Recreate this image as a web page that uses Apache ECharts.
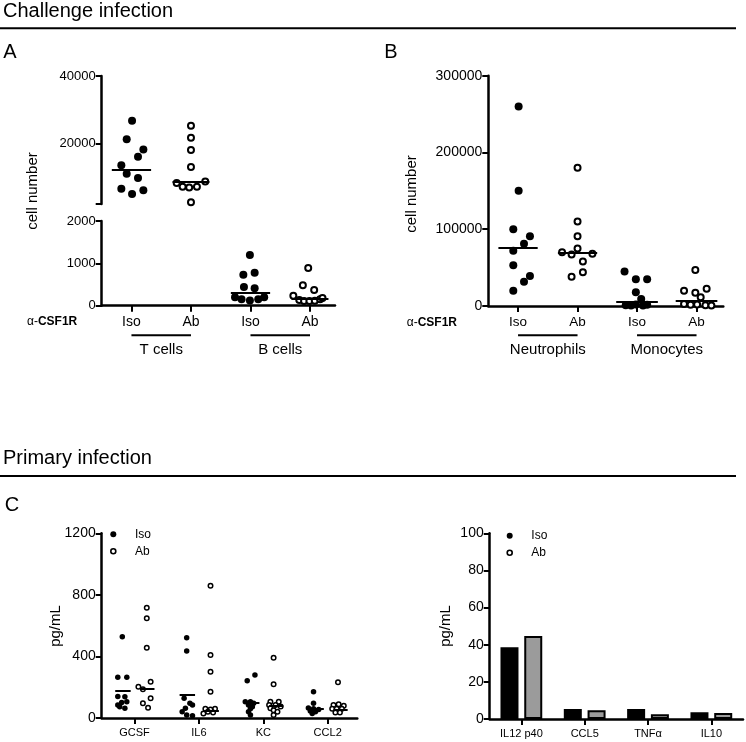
<!DOCTYPE html>
<html><head><meta charset="utf-8">
<script src="https://cdn.jsdelivr.net/npm/echarts@6/dist/echarts.min.js"></script>
<style>html,body{margin:0;padding:0;background:#fff}#c{width:746px;height:742px}</style>
</head><body><div id="c"></div>
<script>
// ================= DATA =================
// Panel A (cell number, broken axis)
const aTicks = ['Iso', 'Ab', 'Iso', 'Ab'];
const aGroups = ['T cells', 'B cells'];
const tCellsIso  = [26700, 21200, 18200, 16000, 13500, 11000, 9700, 6500, 5000, 6100];
const tCellsIsoX = [0.01, -0.08, 0.2, 0.11, -0.17, -0.08, 0.11, -0.17, 0.01, 0.2];
const tCellsAb   = [25200, 21700, 18000, 13000, 8200, 7100, 6900, 7100, 8700, 2500];
const tCellsAbX  = [0, 0, 0, 0, -0.24, -0.14, -0.03, 0.1, 0.24, 0];
const bCellsIso  = [1200, 730, 780, 440, 410, 200, 150, 120, 150, 200];
const bCellsIsoX = [-0.01, -0.12, 0.07, -0.11, 0.07, -0.26, -0.15, -0.01, 0.13, 0.23];
const bCellsAb   = [890, 480, 370, 236, 135, 111, 111, 118, 151, 182];
const bCellsAbX  = [-0.03, -0.12, 0.07, -0.28, -0.18, -0.1, -0.01, 0.08, 0.17, 0.21];
const aMedians   = [12200, 8500, 305, 155];

// Panel B
const bTicks = ['Iso', 'Ab', 'Iso', 'Ab'];
const bGroups = ['Neutrophils', 'Monocytes'];
const neutIso  = [260000, 150000, 100000, 91000, 81000, 72000, 53000, 39000, 31600, 19900];
const neutIsoX = [0.01, 0.01, -0.08, 0.2, 0.1, -0.08, -0.08, 0.2, 0.1, -0.08];
const neutAb   = [180000, 110000, 91000, 75000, 70000, 68000, 67000, 58000, 44000, 38000];
const neutAbX  = [0, 0, 0, 0, -0.26, 0.25, -0.1, 0.09, 0.09, -0.1];
const monoIso  = [45000, 35000, 35000, 17800, 9000, 1000, 500, 2000, 800, 1500];
const monoIsoX = [-0.21, -0.02, 0.17, -0.02, 0.07, -0.19, -0.1, -0.02, 0.1, 0.17];
const monoAb   = [47000, 22500, 20000, 17300, 11300, 2500, 1500, 2000, 1000, 500];
const monoAbX  = [-0.02, 0.17, -0.21, -0.02, 0.07, -0.21, -0.1, 0.01, 0.15, 0.25];
const bMedians = [76500, 69000, 5600, 6900];

// Panel C left (pg/mL)
const cCats = ['GCSF', 'IL6', 'KC', 'CCL2'];
const gcsfIso  = [528, 265, 265, 140, 138, 106, 85, 73, 63, 100];
const gcsfIsoX = [-0.19, -0.26, -0.12, -0.26, -0.15, -0.12, -0.26, -0.23, -0.15, -0.2];
const gcsfAb   = [717, 648, 457, 236, 203, 187, 128, 96, 67];
const gcsfAbX  = [0.19, 0.19, 0.19, 0.25, 0.06, 0.13, 0.25, 0.13, 0.21];
const il6Iso   = [522, 435, 128, 96, 85, 63, 41, 20, 15];
const il6IsoX  = [-0.19, -0.19, -0.23, -0.14, -0.1, -0.21, -0.26, -0.19, -0.1];
const il6Ab    = [860, 410, 301, 171, 60, 60, 55, 40, 35, 30];
const il6AbX   = [0.18, 0.18, 0.18, 0.18, 0.1, 0.25, 0.18, 0.14, 0.22, 0.07];
const kcIso    = [280, 242, 106, 106, 96, 85, 73, 60, 40, 20];
const kcIsoX   = [-0.13, -0.25, -0.28, -0.2, -0.15, -0.23, -0.17, -0.2, -0.23, -0.2];
const kcAb     = [392, 219, 106, 106, 85, 85, 75, 63, 50, 40, 20];
const kcAbX    = [0.16, 0.16, 0.11, 0.24, 0.09, 0.19, 0.27, 0.11, 0.16, 0.22, 0.16];
const ccl2Iso  = [171, 96, 65, 60, 55, 45, 40, 30];
const ccl2IsoX = [-0.22, -0.22, -0.3, -0.22, -0.14, -0.27, -0.19, -0.24];
const ccl2Ab   = [232, 90, 85, 80, 60, 60, 60, 35, 35];
const ccl2AbX  = [0.16, 0.17, 0.09, 0.25, 0.07, 0.14, 0.22, 0.12, 0.19];
const cIsoLines = [177, 154, 100, 60];
const cAbLines  = [187, 50, 80, 55];

// Panel C right (bars)
const barCats = ['IL12 p40', 'CCL5', 'TNFα', 'IL10'];
const barIso  = [38.6, 5.4, 5.4, 3.6];
const barAb   = [44.7, 4.7, 2.5, 3.2];

// ================= CHART =================
const FONT = 'Liberation Sans, Arial, sans-serif';
const chart = echarts.init(document.getElementById('c'), null, {renderer: 'canvas'});

function pts(vals, xs, idx) { return vals.map((v, i) => [idx + xs[i], v]); }
function seg(x, y, hw) { return [{coord: [x - hw, y]}, {coord: [x + hw, y]}]; }
function mline(data, w) {
  return {silent: true, symbol: ['none', 'none'], label: {show: false}, emphasis: {disabled: true},
    lineStyle: {color: '#000', width: w, type: 'solid', opacity: 1}, data: data, animation: false};
}
const filled = s => ({symbol: 'circle', symbolSize: s, itemStyle: {color: '#000', opacity: 1}});
const open = (s, bw) => ({symbol: 'circle', symbolSize: s, itemStyle: {color: '#fff', borderColor: '#000', borderWidth: bw, opacity: 1}});

const axLine = {show: true, onZero: false, lineStyle: {color: '#000', width: 2.5}};
const ylab = fs => ({color: '#000', fontFamily: FONT, fontSize: fs, margin: 6, formatter: v => String(v)});
const tick = {show: true, length: 6, lineStyle: {color: '#000', width: 2}};

function scatterSeries(name, xi, yi, data, style, marks, lw) {
  return Object.assign({type: 'scatter', name: name, xAxisIndex: xi, yAxisIndex: yi, data: data,
    emphasis: {disabled: true}, silent: true, z: 3,
    markLine: mline(marks, lw)}, style);
}

const option = {
  animation: false,
  backgroundColor: '#fff',
  grid: [
    {left: 101.7, top: 76, width: 233.3, height: 128},
    {left: 101.7, top: 221, width: 233.3, height: 84.7},
    {left: 488.3, top: 75.7, width: 235, height: 230.3},
    {left: 101.7, top: 533.3, width: 255.6, height: 184.7},
    {left: 489.7, top: 533.3, width: 253.3, height: 185.7}
  ],
  xAxis: [
    {gridIndex: 0, type: 'value', min: -0.5, max: 3.42, show: false},
    {gridIndex: 1, type: 'value', min: -0.5, max: 3.42, axisLine: axLine, splitLine: {show: false},
      axisTick: Object.assign({customValues: [0, 1, 2, 3]}, tick),
      axisLabel: {color: '#000', fontFamily: FONT, fontSize: 14, margin: 9, customValues: [0, 1, 2, 3], formatter: v => aTicks[Math.round(v)]}},
    {gridIndex: 2, type: 'value', min: -0.5, max: 3.45, axisLine: axLine, splitLine: {show: false},
      axisTick: Object.assign({customValues: [0, 1, 2, 3]}, tick),
      axisLabel: {color: '#000', fontFamily: FONT, fontSize: 13.5, margin: 9, customValues: [0, 1, 2, 3], formatter: v => bTicks[Math.round(v)]}},
    {gridIndex: 3, type: 'value', min: -0.51, max: 3.46, axisLine: axLine, splitLine: {show: false},
      axisTick: Object.assign({customValues: [0, 1, 2, 3]}, tick),
      axisLabel: {color: '#000', fontFamily: FONT, fontSize: 11, margin: 9, customValues: [0, 1, 2, 3], formatter: v => cCats[Math.round(v)]}},
    {gridIndex: 4, type: 'category', data: barCats, axisLine: axLine,
      axisTick: Object.assign({alignWithLabel: true}, tick),
      axisLabel: {color: '#000', fontFamily: FONT, fontSize: 11, margin: 9}}
  ],
  yAxis: [
    {gridIndex: 0, type: 'value', min: 2000, max: 40000, axisLine: axLine, splitLine: {show: false},
      axisTick: Object.assign({customValues: [2000, 20000, 40000]}, tick),
      axisLabel: Object.assign(ylab(13), {customValues: [20000, 40000]})},
    {gridIndex: 1, type: 'value', min: 0, max: 2000, interval: 1000, axisLine: axLine, splitLine: {show: false},
      axisTick: tick, axisLabel: ylab(13)},
    {gridIndex: 2, type: 'value', min: 0, max: 300000, interval: 100000, axisLine: axLine, splitLine: {show: false},
      axisTick: tick, axisLabel: ylab(14)},
    {gridIndex: 3, type: 'value', min: 0, max: 1200, interval: 400, axisLine: axLine, splitLine: {show: false},
      axisTick: tick, axisLabel: ylab(14)},
    {gridIndex: 4, type: 'value', min: 0, max: 100, interval: 20, axisLine: axLine, splitLine: {show: false},
      axisTick: tick, axisLabel: ylab(14)}
  ],
  series: [
    // Panel A - T cells (upper segment)
    scatterSeries('Iso', 0, 0, pts(tCellsIso, tCellsIsoX, 0), filled(8), [seg(0, aMedians[0], 0.33)], 2),
    scatterSeries('Ab', 0, 0, pts(tCellsAb, tCellsAbX, 1), open(6, 2), [seg(1, aMedians[1], 0.31)], 2),
    // Panel A - B cells (lower segment)
    scatterSeries('Iso', 1, 1, pts(bCellsIso, bCellsIsoX, 2), filled(8), [seg(2, aMedians[2], 0.33)], 2),
    scatterSeries('Ab', 1, 1, pts(bCellsAb, bCellsAbX, 3), open(6, 2), [seg(3, aMedians[3], 0.31)], 2),
    // Panel B
    scatterSeries('Iso', 2, 2, pts(neutIso, neutIsoX, 0).concat(pts(monoIso, monoIsoX, 2)), filled(8),
      [seg(0, bMedians[0], 0.33), seg(2, bMedians[2], 0.35)], 2),
    scatterSeries('Ab', 2, 2, pts(neutAb, neutAbX, 1).concat(pts(monoAb, monoAbX, 3)), open(6, 2),
      [seg(1, bMedians[1], 0.33), seg(3, bMedians[3], 0.35)], 2),
    // Panel C left
    scatterSeries('Iso', 3, 3,
      pts(gcsfIso, gcsfIsoX, 0).concat(pts(il6Iso, il6IsoX, 1), pts(kcIso, kcIsoX, 2), pts(ccl2Iso, ccl2IsoX, 3)),
      filled(5.5), cIsoLines.map((v, i) => seg(i - 0.18, v, 0.12)), 2),
    scatterSeries('Ab', 3, 3,
      pts(gcsfAb, gcsfAbX, 0).concat(pts(il6Ab, il6AbX, 1), pts(kcAb, kcAbX, 2), pts(ccl2Ab, ccl2AbX, 3)),
      open(4.5, 1.5), cAbLines.map((v, i) => seg(i + 0.2, v, 0.11)), 2),
    // Panel C right bars
    {type: 'bar', name: 'Iso', xAxisIndex: 4, yAxisIndex: 4, data: barIso, barWidth: 18, barGap: '32%',
      itemStyle: {color: '#000', borderColor: '#000', borderWidth: 2}, emphasis: {disabled: true}, silent: true},
    {type: 'bar', name: 'Ab', xAxisIndex: 4, yAxisIndex: 4, data: barAb, barWidth: 18, barGap: '32%',
      itemStyle: {color: '#9b9b9b', borderColor: '#000', borderWidth: 2}, emphasis: {disabled: true}, silent: true}
  ]
};
chart.setOption(option);

// ---------- annotations (headers, titles, group brackets, legends) ----------
const px = (xi, v) => chart.convertToPixel({xAxisIndex: xi}, v);
const T = (text, x, y, fs, extra) => ({type: 'text', silent: true,
  style: Object.assign({text: text, x: x, y: y, font: fs + 'px ' + FONT, fill: '#000', align: 'left', verticalAlign: 'middle'}, extra || {})});
const L = (x1, y1, x2, y2, w) => ({type: 'line', silent: true, shape: {x1: x1, y1: y1, x2: x2, y2: y2}, style: {stroke: '#000', lineWidth: w}});
const yTitle = (text, x, y, fs) => ({type: 'text', silent: true, x: x, y: y, rotation: Math.PI / 2,
  style: {text: text, x: 0, y: 0, font: fs + 'px ' + FONT, fill: '#000', align: 'center', verticalAlign: 'middle'}});
const csf = (x, y) => ({type: 'text', silent: true, style: {x: x, y: y, verticalAlign: 'middle', align: 'left',
  text: '{a|α-}{b|CSF1R}', rich: {a: {fontFamily: FONT, fontSize: 12, fill: '#000'}, b: {fontFamily: FONT, fontSize: 12, fontWeight: 'bold', fill: '#000'}}}});

const g = [];
g.push(T('Challenge infection', 3, 11, 20));
g.push(L(0, 28.3, 736, 28.3, 2));
g.push(T('Primary infection', 3, 458, 20));
g.push(L(0, 476, 736, 476, 2));
g.push(T('A', 10, 52, 20, {align: 'center'}));
g.push(T('B', 391, 52, 20, {align: 'center'}));
g.push(T('C', 12, 505, 20, {align: 'center'}));

g.push(yTitle('cell number', 33, 191, 15));
g.push(yTitle('cell number', 412, 194, 15));
g.push(yTitle('pg/mL', 55.5, 626, 15));
g.push(yTitle('pg/mL', 446.3, 626, 15));

g.push(csf(27, 322));
g.push(csf(406.7, 322.7));

// group brackets A and B
[[1, aGroups], [2, bGroups]].forEach(([xi, groups]) => {
  groups.forEach((name, k) => {
    const x1 = px(xi, 2 * k), x2 = px(xi, 2 * k + 1);
    g.push(L(x1, 335.3, x2, 335.3, 2));
    g.push(T(name, (x1 + x2) / 2, 349.5, 15, {align: 'center'}));
  });
});

// legends for panel C
[[113.3, 534.3, 135], [509.7, 535.7, 531.3]].forEach(([cx, cy, tx]) => {
  g.push({type: 'circle', silent: true, shape: {cx: cx, cy: cy, r: 3}, style: {fill: '#000'}});
  g.push(T('Iso', tx, cy, 12));
  g.push({type: 'circle', silent: true, shape: {cx: cx, cy: cy + 17, r: 2.5}, style: {fill: '#fff', stroke: '#000', lineWidth: 1.6}});
  g.push(T('Ab', tx, cy + 17, 12));
});

chart.setOption({graphic: g});
</script>
</body></html>
